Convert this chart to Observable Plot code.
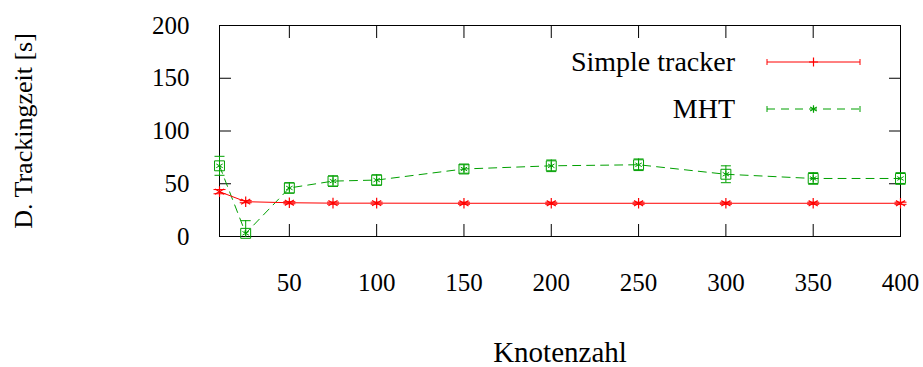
<!DOCTYPE html>
<html>
<head>
<meta charset="utf-8">
<script src="https://cdn.jsdelivr.net/npm/d3@7"></script>
<script src="https://cdn.jsdelivr.net/npm/@observablehq/plot@0.6"></script>
<style>
  html, body { margin: 0; padding: 0; background: #fff; }
  #chart { width: 923px; height: 367px; }
</style>
</head>
<body>
<div id="chart"></div>
<script>
// Number of nodes (x) and tracking time in seconds (y) with error margins
const nodes = [10, 25, 50, 75, 100, 150, 200, 250, 300, 350, 400];
const simpleTime = [42.5, 33, 32, 31.6, 31.6, 31.5, 31.5, 31.5, 31.5, 31.5, 31.5];
const simpleErr = [2, 1, 1, 1, 1, 1, 1, 1, 1, 1, 1];
const mhtTime = [67, 3, 46, 52.5, 53.5, 64, 67, 68, 59, 55, 55];
const mhtErr = [9, 12, 5, 5, 5, 4, 5.5, 5.5, 8, 5.5, 5.5];

const seriesNames = ["Simple tracker", "MHT"];
const xTicks = [50, 100, 150, 200, 250, 300, 350, 400];
const yTicks = [0, 50, 100, 150, 200];
const xTitle = "Knotenzahl";
const yTitle = "D. Trackingzeit [s]";

const RED = "#ff0000";
const GREEN = "#00a000";
const DASH = "8,6";
const Y_MIN = 0, Y_MAX = 200;

const simple = nodes.map((n, i) => ({x: n, y: simpleTime[i], lo: simpleTime[i] - simpleErr[i], hi: simpleTime[i] + simpleErr[i]}));
const mht = nodes.map((n, i) => ({x: n, y: mhtTime[i], lo: mhtTime[i] - mhtErr[i], hi: mhtTime[i] + mhtErr[i]}));

// horizontal bar symbol used for error bar caps
const hbar = {
  draw(context, size) {
    const r = Math.sqrt(size / Math.PI);
    context.moveTo(-r, 0);
    context.lineTo(r, 0);
  }
};

const noText = () => "";
const inRange = v => v >= Y_MIN && v <= Y_MAX;

function seriesMarks(data, color, dash, capR, markers) {
  return [
    Plot.line(data, {x: "x", y: "y", stroke: color, strokeWidth: 1, strokeDasharray: dash}),
    // error bars stop at the plot range; caps outside it are not drawn
    Plot.ruleX(data, {x: "x", y1: d => Math.max(Y_MIN, d.lo), y2: d => Math.min(Y_MAX, d.hi), stroke: color, strokeWidth: 1}),
    Plot.dot(data.filter(d => inRange(d.lo)), {x: "x", y: "lo", symbol: hbar, r: capR, stroke: color, strokeWidth: 1}),
    Plot.dot(data.filter(d => inRange(d.hi)), {x: "x", y: "hi", symbol: hbar, r: capR, stroke: color, strokeWidth: 1}),
    ...markers
  ];
}

const plot = Plot.plot({
  width: 923,
  height: 367,
  marginLeft: 219,
  marginRight: 23,
  marginTop: 25,
  marginBottom: 131,
  style: {fontFamily: "'Liberation Serif', serif", fontSize: "25px", color: "#000", background: "#fff"},
  x: {domain: [10, 400], label: null},
  y: {domain: [Y_MIN, Y_MAX], label: null},
  marks: [
    // tick labels
    Plot.axisY(yTicks, {anchor: "left", tickSize: 0, tickPadding: 30, label: null}),
    Plot.axisX(xTicks, {anchor: "bottom", tickSize: 0, tickPadding: 37, label: null}),
    // inward ticks on all four sides
    Plot.axisY(yTicks, {anchor: "left", tickSize: 12, dx: 12, tickFormat: noText, label: null}),
    Plot.axisY(yTicks, {anchor: "right", tickSize: 12, dx: -12, tickFormat: noText, label: null}),
    Plot.axisX(xTicks, {anchor: "bottom", tickSize: 12, dy: -12, tickFormat: noText, label: null}),
    Plot.axisX(xTicks, {anchor: "top", tickSize: 12, dy: 12, tickFormat: noText, label: null}),
    Plot.frame({stroke: "#000", strokeWidth: 1}),
    // MHT series
    ...seriesMarks(mht, GREEN, DASH, 5, [
      Plot.dot(mht, {x: "x", y: "y", symbol: "square", r: 5.6, stroke: GREEN, strokeWidth: 1}),
      Plot.dot(mht, {x: "x", y: "y", symbol: "asterisk", r: 3.5, stroke: GREEN, strokeWidth: 1})
    ]),
    // Simple tracker series
    ...seriesMarks(simple, RED, null, 6, [
      Plot.dot(simple, {x: "x", y: "y", symbol: "asterisk", r: 5, stroke: RED, strokeWidth: 1.2})
    ]),
    // axis titles
    Plot.text([xTitle], {text: d => d, frameAnchor: "bottom", dy: 116, textAnchor: "middle", lineAnchor: "middle", fontSize: 29, fill: "#000"}),
    Plot.text([yTitle], {text: d => d, frameAnchor: "left", dx: -196, rotate: -90, textAnchor: "middle", lineAnchor: "middle", fontSize: 26, fill: "#000"})
  ]
});

document.getElementById("chart").appendChild(plot);

// Key in the upper right corner of the frame
const svg = d3.select(plot);
const frameRight = 923 - 23;
const key = svg.append("g").attr("class", "key");
const rows = [
  {name: seriesNames[0], color: RED, dash: null, marker: "plus", y: 62},
  {name: seriesNames[1], color: GREEN, dash: DASH, marker: "asterisk", y: 109}
];
const x0 = frameRight - 133, x1 = frameRight - 40, xm = (x0 + x1) / 2;
rows.forEach(r => {
  key.append("text")
    .attr("x", frameRight - 165).attr("y", r.y).attr("dy", "0.32em")
    .attr("text-anchor", "end").attr("font-size", 28).attr("fill", "#000")
    .text(r.name);
  key.append("line")
    .attr("x1", x0).attr("x2", x1).attr("y1", r.y).attr("y2", r.y)
    .attr("stroke", r.color).attr("stroke-width", 1)
    .attr("stroke-dasharray", r.dash);
  [x0, x1].forEach(xc => key.append("line")
    .attr("x1", xc).attr("x2", xc).attr("y1", r.y - 3).attr("y2", r.y + 3)
    .attr("stroke", r.color).attr("stroke-width", 1));
  const path = r.marker === "plus"
    ? `M${xm - 4.5},${r.y}h9M${xm},${r.y - 4.5}v9`
    : d3.symbol(d3.symbolAsterisk, 40)();
  key.append("path")
    .attr("d", path)
    .attr("transform", r.marker === "plus" ? null : `translate(${xm},${r.y})`)
    .attr("fill", "none").attr("stroke", r.color).attr("stroke-width", 1.2);
});
</script>
</body>
</html>
